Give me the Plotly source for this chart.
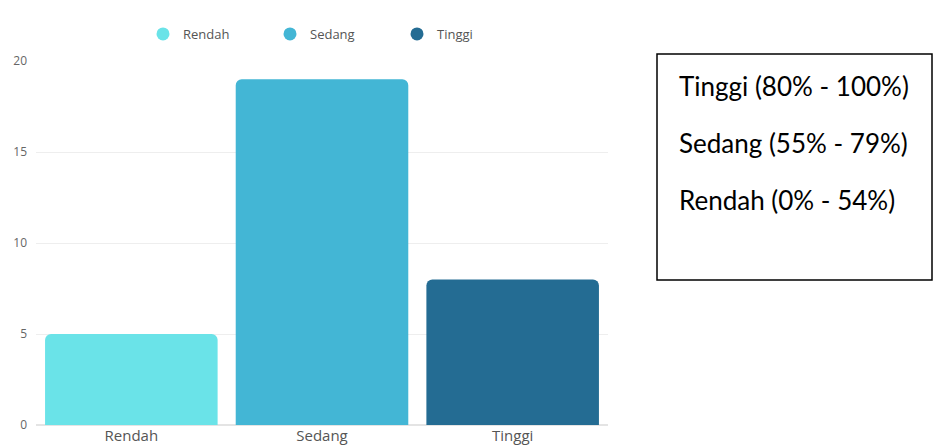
import plotly.graph_objects as go

categories = ["Rendah", "Sedang", "Tinggi"]
values = [5, 19, 8]
colors = ["#6ae3e8", "#43b6d5", "#246c93"]
y_ticks = [0, 5, 10, 15, 20]
box_lines = ["Tinggi (80% - 100%)", "Sedang (55% - 79%)", "Rendah (0% - 54%)"]

W, H = 934, 446
ML, MR, MT, MB = 36, 326, 61, 21
pw = W - ML - MR
ph = H - MT - MB

def px_x(p):
    return (p - ML) / pw

def px_y(p):
    return (H - MB - p) / ph

fig = go.Figure()
for c, v, col in zip(categories, values, colors):
    fig.add_trace(go.Bar(x=[c], y=[v], marker=dict(color=col, line=dict(width=0)),
                         width=0.905, showlegend=False, hoverinfo="skip"))
for c, col in zip(categories, colors):
    fig.add_trace(go.Scatter(x=[None], y=[None], mode="markers", name=c,
                             marker=dict(color=col, size=13, symbol="circle")))

fig.update_layout(
    width=W, height=H,
    margin=dict(l=ML, r=MR, t=MT, b=MB, autoexpand=False),
    paper_bgcolor="white", plot_bgcolor="white",
    barmode="overlay", barcornerradius=6,
    font=dict(family="Open Sans", color="#666666", size=12),
    legend=dict(orientation="h", x=px_x(143), y=px_y(34), xanchor="left", yanchor="middle",
                font=dict(size=13, color="#555555"), entrywidth=82, entrywidthmode="pixels"),
    xaxis=dict(categoryorder="array", categoryarray=categories, showgrid=False,
               showline=False, ticks="", tickfont=dict(size=15, color="#555555"),
               zeroline=False, automargin=False),
    yaxis=dict(range=[0, 20], tickvals=y_ticks, showgrid=True, gridcolor="#eeeeee",
               gridwidth=1, zeroline=True, zerolinecolor="#e4e4e4", showline=False,
               tickfont=dict(size=12, color="#666666"), ticklabelstandoff=8, automargin=False),
    shapes=[dict(type="rect", xref="paper", yref="paper",
                 x0=px_x(657), x1=px_x(932), y0=px_y(280), y1=px_y(54),
                 line=dict(color="black", width=1.5), fillcolor="rgba(0,0,0,0)")],
)

for i, t in enumerate(box_lines):
    fig.add_annotation(text=t, xref="paper", yref="paper", x=px_x(677), y=px_y(86 + 57 * i),
                       xanchor="left", yanchor="middle", showarrow=False,
                       font=dict(family="Lato", size=26, color="black"))

fig.write_html("out.html")
